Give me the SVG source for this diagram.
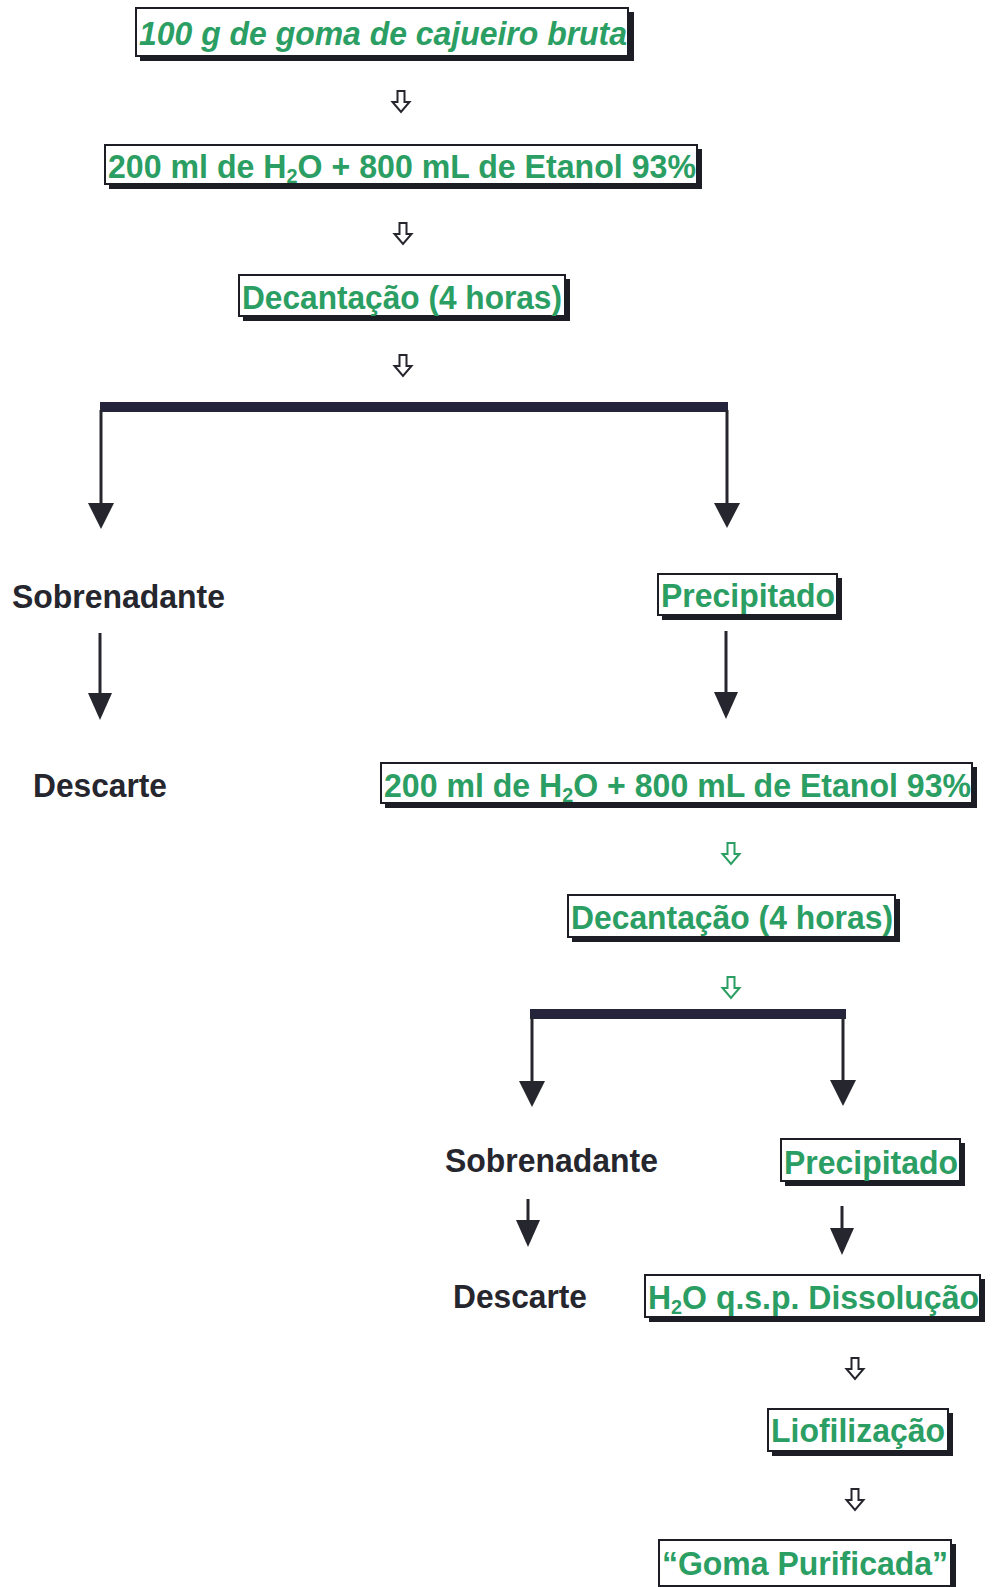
<svg xmlns="http://www.w3.org/2000/svg" xmlns:xlink="http://www.w3.org/1999/xlink" width="992" height="1587" viewBox="0 0 992 1587">
<style>
.box{fill:#fff;stroke:#1d1d26;stroke-width:2}
.sh{fill:#1d1d26}
.g{fill:#2b9e63;font-family:"Liberation Sans",Arial,sans-serif;font-weight:bold;font-size:34px}
.k{fill:#26262e;font-family:"Liberation Sans",Arial,sans-serif;font-weight:bold;font-size:33px}
.ln{stroke:#26262e;stroke-width:3;fill:none}
.bar{stroke:#24243a;stroke-width:10;fill:none}
.hd{fill:#26262e}
.ha{fill:#fff;stroke:#26262e;stroke-width:2}
.hag{fill:#fff;stroke:#2b9e63;stroke-width:2}
</style>
<defs>
<path id="harrow" d="M-3.5,0 H3.5 V11 H8.5 L0,21 L-8.5,11 H-3.5 Z"/>
</defs>
<rect width="992" height="1587" fill="#fff"/>

<g id="n1">
<rect class="sh" x="140" y="12" width="494" height="49"/>
<rect class="box" x="136" y="8" width="492" height="48"/>
<text class="g" x="139" y="45" font-style="italic" textLength="488" lengthAdjust="spacingAndGlyphs">100 g de goma de cajueiro bruta</text>
</g>

<g id="n2">
<rect class="sh" x="109" y="149" width="593" height="40"/>
<rect class="box" x="105" y="145" width="592" height="39"/>
<text class="g" x="108" y="178" textLength="588" lengthAdjust="spacingAndGlyphs">200 ml de H<tspan font-size="21" dy="5">2</tspan><tspan dy="-5">O + 800 mL de Etanol 93%</tspan></text>
</g>

<g id="n3">
<rect class="sh" x="243" y="279" width="327" height="42"/>
<rect class="box" x="239" y="275" width="326" height="41"/>
<text class="g" x="242" y="309" textLength="320" lengthAdjust="spacingAndGlyphs">Decantação (4 horas)</text>
</g>

<g id="n4">
<text class="k" x="12" y="608" textLength="213" lengthAdjust="spacingAndGlyphs">Sobrenadante</text>
</g>

<g id="n5">
<rect class="sh" x="662" y="578" width="180" height="42"/>
<rect class="box" x="658" y="574" width="179" height="41"/>
<text class="g" x="661" y="607" textLength="174" lengthAdjust="spacingAndGlyphs">Precipitado</text>
</g>

<g id="n6">
<text class="k" x="33" y="797" textLength="134" lengthAdjust="spacingAndGlyphs">Descarte</text>
</g>

<g id="n7">
<rect class="sh" x="385" y="767" width="592" height="41"/>
<rect class="box" x="381" y="763" width="591" height="40"/>
<text class="g" x="384" y="797" textLength="587" lengthAdjust="spacingAndGlyphs">200 ml de H<tspan font-size="21" dy="5">2</tspan><tspan dy="-5">O + 800 mL de Etanol 93%</tspan></text>
</g>

<g id="n8">
<rect class="sh" x="572" y="899" width="328" height="43"/>
<rect class="box" x="568" y="895" width="327" height="42"/>
<text class="g" x="571" y="929" textLength="322" lengthAdjust="spacingAndGlyphs">Decantação (4 horas)</text>
</g>

<g id="n9">
<text class="k" x="445" y="1172" textLength="213" lengthAdjust="spacingAndGlyphs">Sobrenadante</text>
</g>

<g id="n10">
<rect class="sh" x="785" y="1143" width="180" height="43"/>
<rect class="box" x="781" y="1139" width="179" height="42"/>
<text class="g" x="784" y="1174" textLength="174" lengthAdjust="spacingAndGlyphs">Precipitado</text>
</g>

<g id="n11">
<text class="k" x="453" y="1308" textLength="134" lengthAdjust="spacingAndGlyphs">Descarte</text>
</g>

<g id="n12">
<rect class="sh" x="649" y="1279" width="336" height="43"/>
<rect class="box" x="645" y="1275" width="335" height="42"/>
<text class="g" x="648" y="1309" textLength="331" lengthAdjust="spacingAndGlyphs">H<tspan font-size="21" dy="5">2</tspan><tspan dy="-5">O q.s.p. Dissolução</tspan></text>
</g>

<g id="n13">
<rect class="sh" x="772" y="1413" width="181" height="43"/>
<rect class="box" x="768" y="1409" width="180" height="42"/>
<text class="g" x="771" y="1442" textLength="174" lengthAdjust="spacingAndGlyphs">Liofilização</text>
</g>

<g id="n14">
<rect class="sh" x="663" y="1544" width="293" height="47"/>
<rect class="box" x="659" y="1540" width="292" height="46"/>
<text class="g" x="662" y="1575" textLength="286" lengthAdjust="spacingAndGlyphs">“Goma Purificada”</text>
</g>

<g id="connectors">
<use xlink:href="#harrow" href="#harrow" class="ha" x="401" y="91"/>
<use xlink:href="#harrow" href="#harrow" class="ha" x="403" y="223"/>
<use xlink:href="#harrow" href="#harrow" class="ha" x="403" y="355"/>

<line class="bar" x1="100" y1="407" x2="728" y2="407"/>
<line class="ln" x1="101" y1="410" x2="101" y2="505"/>
<polygon class="hd" points="88,503 114,503 101,529"/>
<line class="ln" x1="727" y1="410" x2="727" y2="505"/>
<polygon class="hd" points="714,503 740,503 727,528"/>

<line class="ln" x1="100" y1="633" x2="100" y2="695"/>
<polygon class="hd" points="88,693 112,693 100,720"/>
<line class="ln" x1="726" y1="631" x2="726" y2="694"/>
<polygon class="hd" points="714,692 738,692 726,719"/>

<use xlink:href="#harrow" href="#harrow" class="hag" x="731" y="843"/>
<use xlink:href="#harrow" href="#harrow" class="hag" x="731" y="977"/>

<line class="bar" x1="530" y1="1014" x2="846" y2="1014"/>
<line class="ln" x1="532" y1="1017" x2="532" y2="1083"/>
<polygon class="hd" points="519,1081 545,1081 532,1107"/>
<line class="ln" x1="843" y1="1017" x2="843" y2="1082"/>
<polygon class="hd" points="830,1080 856,1080 843,1106"/>

<line class="ln" x1="528" y1="1199" x2="528" y2="1222"/>
<polygon class="hd" points="516,1220 540,1220 528,1247"/>
<line class="ln" x1="842" y1="1206" x2="842" y2="1230"/>
<polygon class="hd" points="830,1228 854,1228 842,1255"/>

<use xlink:href="#harrow" href="#harrow" class="ha" x="855" y="1358"/>
<use xlink:href="#harrow" href="#harrow" class="ha" x="855" y="1489"/>
</g>
</svg>
